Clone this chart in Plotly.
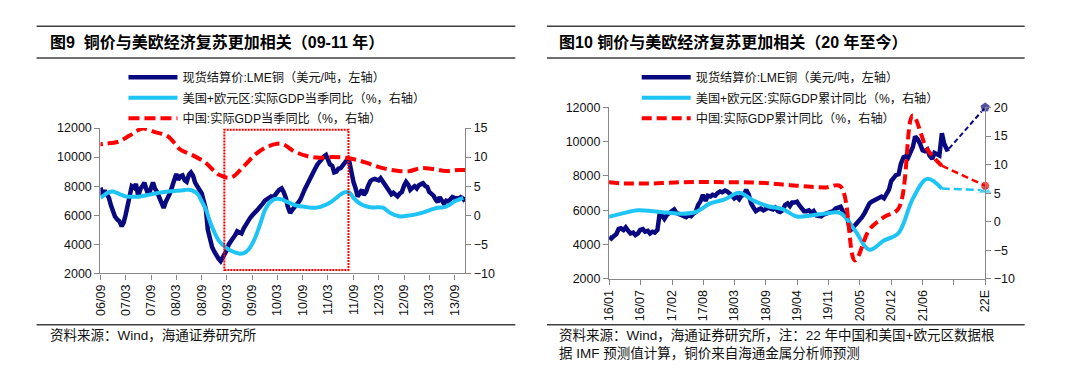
import pandas as pd
import plotly.graph_objects as go

# ------------------------------------------------------------------
# DATA - left chart (图9, 2006/09 - 2013/11)
# ------------------------------------------------------------------
left_start = "2006-09-01"
# LME copper settlement, semi-monthly readings (USD/t, left axis)
cu_left = [
    7900, 7400, 7700, 7500, 7200, 6700, 6300, 5900, 5700, 5600,
    5250, 5500, 6000, 6700, 7500, 8000, 7900, 8150, 7300, 7800,
    8000, 8250, 7700, 7400, 7900, 8250, 7800, 7600, 7200, 6800,
    6500, 6900, 7200, 7500, 8000, 8500, 8850, 8450, 8700, 8750,
    8400, 8300, 8800, 8950, 8700, 8250, 8000, 7800, 7500, 7000,
    6400, 5000, 4300, 3800, 3500, 3200, 3000, 2850, 3100, 3300,
    3600, 4000, 4200, 4450, 4650, 4900, 4800, 4750, 5100, 5350,
    5550, 5800, 6000, 6100, 6300, 6450, 6600, 6800, 7000, 7100,
    7150, 7300, 7250, 7500, 7600, 7750, 7850, 7600, 7200, 6600,
    6150, 6350, 6500, 6700, 6900, 7100, 7400, 7800, 8100, 8400,
    8700, 8950, 9250, 9500, 9700, 9950, 10050, 10150, 9800, 9500,
    9400, 8950, 9000, 9200, 9250, 9400, 9600, 9800, 9750, 8900,
    8300, 7900, 7300, 7500, 7750, 7400, 7600, 8000, 8350, 8450,
    8500, 8450, 8400, 8550, 8300, 8150, 7800, 7600, 7450, 7550,
    7400, 7300, 7500, 7600, 8050, 8300, 8100, 7750, 7900, 8000,
    7850, 8050, 8150, 8200, 8000, 7950, 7600, 7500, 7350, 7100,
    6900, 7250, 7000, 6800, 7000, 6950, 7100, 7250, 7200, 7200,
    7150, 7250, 7150, 6950,
]
# US + Euro area real GDP, quarterly yoy (%), monthly readings, right axis
us_eu_left = [
    3.0, 3.5, 4.0, 4.1, 3.8, 3.5, 3.25, 3.2, 3.2, 3.2,
    3.3, 3.45, 3.6, 3.75, 3.9, 4.0, 4.1, 4.15, 4.2, 4.25,
    4.35, 4.4, 4.2, 3.7, 2.4, 1.0, -1.2, -2.9, -4.3, -5.1,
    -5.7, -6.1, -6.4, -6.6, -6.5, -6.0, -4.9, -3.3, -1.2, 0.9,
    2.1, 2.7, 2.85, 2.75, 2.4, 2.1, 1.8, 1.6, 1.5, 1.4,
    1.3, 1.3, 1.4, 1.7, 2.0, 2.45, 3.0, 3.6, 3.95, 3.9,
    3.0, 2.3, 1.8, 1.55, 1.4, 1.35, 1.4, 1.3, 0.8, 0.3,
    0.0, -0.2, -0.15, -0.05, 0.05, 0.2, 0.4, 0.6, 0.85, 1.1,
    1.3, 1.35, 1.5, 1.9, 2.4, 2.7, 3.0,
]
# China real GDP, quarterly yoy (%), right axis
cn_left_dates = [
    "2006-06-30", "2006-09-30", "2006-12-31", "2007-03-31", "2007-06-30",
    "2007-09-30", "2007-12-31", "2008-03-31", "2008-06-30", "2008-09-30",
    "2008-12-31", "2009-03-31", "2009-06-30", "2009-09-30", "2009-12-31",
    "2010-03-31", "2010-06-30", "2010-09-30", "2010-12-31", "2011-03-31",
    "2011-06-30", "2011-09-30", "2011-12-31", "2012-03-31", "2012-06-30",
    "2012-09-30", "2012-12-31", "2013-03-31", "2013-06-30", "2013-09-30",
    "2013-12-31",
]
cn_left = [
    12.0, 12.3, 12.6, 13.7, 14.9, 14.3, 13.6, 11.3, 10.3, 9.0,
    7.0, 6.5, 8.4, 10.6, 11.9, 12.3, 11.0, 10.2, 9.9, 10.0,
    9.9, 9.5, 8.8, 8.1, 7.7, 7.55, 8.1, 7.95, 7.6, 7.8,
    7.75,
]
left_tick_dates = [
    "2006-09-01", "2007-03-01", "2007-09-01", "2008-03-01", "2008-09-01",
    "2009-03-01", "2009-09-01", "2010-03-01", "2010-09-01", "2011-03-01",
    "2011-09-01", "2012-03-01", "2012-09-01", "2013-03-01", "2013-09-01",
]
left_tick_text = [
    "06/09", "07/03", "07/09", "08/03", "08/09", "09/03", "09/09", "10/03",
    "10/09", "11/03", "11/09", "12/03", "12/09", "13/03", "13/09",
]
# highlighted window 2009-2011 (dotted box)
box_start, box_end = "2009-02-11", "2011-07-27"
box_low, box_high = 2245, 11880

# ------------------------------------------------------------------
# DATA - right chart (图10, 2016/01 - 22E)
# ------------------------------------------------------------------
right_start = "2016-01-01"
cu_right = [
    4450, 4350, 4500, 4600, 4900, 4950, 4850, 5000, 4800, 4650,
    4700, 4550, 4650, 4850, 4900, 4750, 4800, 4650, 4750, 4700,
    4850, 5800, 5700, 5500, 5750, 5850, 5950, 6050, 5850, 5800,
    5700, 5650, 5600, 5700, 5650, 5800, 5900, 6300, 6550, 6900,
    6550, 6850, 6800, 6900, 6850, 7000, 7100, 7050, 7150, 7100,
    7000, 6850, 6700, 6800, 6650, 6850, 6900, 7200, 6900, 6400,
    6150, 5950, 6050, 6100, 6000, 6100, 6150, 6100, 6050, 6150,
    5950, 5900, 6000, 6300, 6400, 6250, 6450, 6450, 6500, 6300,
    6100, 5950, 5950, 6000, 5850, 5950, 5700, 5700, 5650, 5750,
    5800, 5850, 5900, 5950, 6100, 6150, 6200, 5950, 5700, 5450,
    4800, 4950, 5150, 5250, 5400, 5600, 5850, 6100, 6400, 6500,
    6600, 6650, 6750, 6800, 6700, 6900, 7200, 7700, 7900, 8050,
    8100, 8700, 9100, 9150, 9050, 9400, 9700, 10300, 10150, 9900,
    9500, 9450, 9550, 9200, 9000, 9350, 9250, 9200, 10500, 9900,
    9550, 9600,
]
gdp_right_dates = [
    "2015-12-31", "2016-03-31", "2016-06-30", "2016-09-30", "2016-12-31",
    "2017-03-31", "2017-06-30", "2017-09-30", "2017-12-31", "2018-03-31",
    "2018-06-30", "2018-09-30", "2018-12-31", "2019-03-31", "2019-06-30",
    "2019-09-30", "2019-12-31", "2020-03-31", "2020-06-30", "2020-09-30",
    "2020-12-31", "2021-03-31", "2021-06-30", "2021-09-30",
]
us_eu_right = [
    0.85, 1.5, 2.0, 1.85, 1.6, 1.4, 1.7, 3.2, 3.9, 5.05,
    3.7, 2.7, 2.2, 0.9, 1.1, 1.45, 1.5, -1.5, -4.9, -3.3,
    -2.0, 4.0, 7.5, 5.8,
]
cn_right = [
    6.9, 6.7, 6.7, 6.7, 6.8, 6.9, 6.95, 6.95, 6.9, 6.9,
    6.85, 6.75, 6.5, 6.3, 6.1, 6.0, 6.2, -6.8, -1.4, 0.8,
    2.3, 18.6, 12.7, 9.8,
]
# 2022 estimates (IMF GDP forecasts, analyst copper forecast)
date_22E = "2022-07-01"
cu_22E = 12000
us_eu_22E = 5.5
cn_22E = 6.3
right_tick_dates = [
    "2016-01-01", "2016-07-16", "2017-02-01", "2017-08-16", "2018-03-01",
    "2018-09-16", "2019-04-01", "2019-10-16", "2020-05-01", "2020-11-16",
    "2021-06-01", "2021-12-16", "2022-07-01",
]
right_tick_text = [
    "16/01", "16/07", "17/02", "17/08", "18/03", "18/09", "19/04", "19/11",
    "20/05", "20/12", "21/06", "", "22E",
]

# ------------------------------------------------------------------
# STYLE
# ------------------------------------------------------------------
W, H = 1080, 378
NAVY = "#0A0A80"
CYAN = "#1EC4F5"
RED = "#FF0000"
AXIS = "#888888"
RULE = "#404040"
FONT = "Liberation Sans, Arial, Noto Sans CJK SC, sans-serif"
CJK = "Liberation Sans, Noto Sans CJK SC, sans-serif"


def fx(p):
    return p / W


def fy(p):
    return 1 - p / H


cu_left_dates = pd.date_range(left_start, periods=len(cu_left), freq="SMS")
us_eu_left_dates = pd.date_range(left_start, periods=len(us_eu_left), freq="MS")
cu_right_dates = pd.date_range(right_start, periods=len(cu_right), freq="SMS")

lab_cu = "现货结算价:LME铜（美元/吨，左轴）"
lab_useu_l = "美国+欧元区:实际GDP当季同比（%，右轴）"
lab_cn_l = "中国:实际GDP当季同比（%，右轴）"
lab_useu_r = "美国+欧元区:实际GDP累计同比（%，右轴）"
lab_cn_r = "中国:实际GDP累计同比（%，右轴）"

fig = go.Figure()

# ---- left chart traces
fig.add_trace(go.Scatter(
    x=cu_left_dates, y=cu_left, name=lab_cu, mode="lines",
    line=dict(color=NAVY, width=4.5), xaxis="x", yaxis="y",
    legend="legend", legendgroup="l1"))
fig.add_trace(go.Scatter(
    x=us_eu_left_dates, y=us_eu_left, name=lab_useu_l, mode="lines",
    line=dict(color=CYAN, width=4, shape="spline", smoothing=1),
    xaxis="x", yaxis="y2", legend="legend", legendgroup="l2"))
fig.add_trace(go.Scatter(
    x=cn_left_dates, y=cn_left, name=lab_cn_l, mode="lines",
    line=dict(color=RED, width=4, dash="11px,5px", shape="spline", smoothing=1),
    xaxis="x", yaxis="y2", legend="legend", legendgroup="l3"))

# ---- right chart traces
fig.add_trace(go.Scatter(
    x=cu_right_dates, y=cu_right, name=lab_cu, mode="lines",
    line=dict(color=NAVY, width=4.5), xaxis="x2", yaxis="y3",
    legend="legend2", legendgroup="r1"))
fig.add_trace(go.Scatter(
    x=gdp_right_dates, y=us_eu_right, name=lab_useu_r, mode="lines",
    line=dict(color=CYAN, width=4, shape="spline", smoothing=1),
    xaxis="x2", yaxis="y4", legend="legend2", legendgroup="r2"))
fig.add_trace(go.Scatter(
    x=gdp_right_dates, y=cn_right, name=lab_cn_r, mode="lines",
    line=dict(color=RED, width=4, dash="10px,5px", shape="spline", smoothing=1),
    xaxis="x2", yaxis="y4", legend="legend2", legendgroup="r3"))

# ---- 22E forecast segments
fig.add_trace(go.Scatter(
    x=[cu_right_dates[-1], date_22E], y=[cu_right[-1], cu_22E],
    mode="lines+markers", showlegend=False, cliponaxis=False,
    line=dict(color=NAVY, width=2, dash="5px,3px"),
    marker=dict(symbol="pentagon", size=[0, 11], color=NAVY),
    xaxis="x2", yaxis="y3"))
fig.add_trace(go.Scatter(
    x=[gdp_right_dates[-1], date_22E], y=[us_eu_right[-1], us_eu_22E],
    mode="lines+markers", showlegend=False, cliponaxis=False,
    line=dict(color=CYAN, width=2.5, dash="8px,4px"),
    marker=dict(symbol="triangle-up", size=[0, 12], color=CYAN),
    xaxis="x2", yaxis="y4"))
fig.add_trace(go.Scatter(
    x=[gdp_right_dates[-1], date_22E], y=[cn_right[-1], cn_22E],
    mode="lines+markers", showlegend=False, cliponaxis=False,
    line=dict(color=RED, width=2.5, dash="7px,4px"),
    marker=dict(symbol="circle", size=[0, 9], color=RED),
    xaxis="x2", yaxis="y4"))

tickfont = dict(family=FONT, size=12.5, color="#111111")
common_axis = dict(showgrid=False, zeroline=False, showline=True, linecolor=AXIS,
                   linewidth=1.3, ticks="outside", tickcolor=AXIS, tickwidth=1.3,
                   tickfont=tickfont)

fig.update_layout(
    width=W, height=H, autosize=False,
    margin=dict(l=0, r=0, t=0, b=0),
    paper_bgcolor="white", plot_bgcolor="white",
    font=dict(family=FONT, size=12.5, color="#111111"),
    xaxis=dict(domain=[fx(94.7), fx(464)], anchor="y", type="date",
               range=["2006-09-01", "2013-11-14"], tickmode="array",
               tickvals=left_tick_dates, ticktext=left_tick_text,
               tickangle=-90, ticklen=5, **common_axis),
    yaxis=dict(domain=[fy(276.7), fy(125.7)], anchor="x", range=[2000, 12000],
               tick0=2000, dtick=2000, ticklen=5, tickformat="d", **common_axis),
    yaxis2=dict(overlaying="y", side="right", anchor="x", range=[-10, 15],
                tick0=-10, dtick=5, ticklen=5, tickformat="d", **common_axis),
    xaxis2=dict(domain=[fx(610), fx(991)], anchor="y3", type="date",
                range=["2016-01-01", "2022-07-01"], tickmode="array",
                tickvals=right_tick_dates, ticktext=right_tick_text,
                tickangle=-90, ticklen=5, **common_axis),
    yaxis3=dict(domain=[fy(282.3), fy(104.3)], anchor="x2", range=[2000, 12000],
                tick0=2000, dtick=2000, ticklen=5, tickformat="d", **common_axis),
    yaxis4=dict(overlaying="y3", side="right", anchor="x2", range=[-10, 20],
                tick0=-10, dtick=5, ticklen=5, tickformat="d", **common_axis),
    legend=dict(x=fx(118), y=fy(58), xanchor="left", yanchor="top",
                bgcolor="rgba(0,0,0,0)", borderwidth=0, itemwidth=49,
                traceorder="grouped", tracegroupgap=1.5,
                font=dict(family=CJK, size=12.2, color="#111111")),
    legend2=dict(x=fx(638), y=fy(58), xanchor="left", yanchor="top",
                 bgcolor="rgba(0,0,0,0)", borderwidth=0, itemwidth=49,
                 traceorder="grouped", tracegroupgap=1.5,
                 font=dict(family=CJK, size=12.2, color="#111111")),
)

# highlight box on left chart
fig.add_shape(type="rect", xref="x", yref="y", x0=box_start, x1=box_end,
              y0=box_low, y1=box_high,
              line=dict(color=RED, width=2, dash="2px,1px"))

# horizontal rules
for (a, b) in [(30, 515), (547, 1031)]:
    for yy in (20, 53, 330):
        fig.add_shape(type="line", xref="paper", yref="paper",
                      x0=fx(a), x1=fx(b), y0=fy(yy), y1=fy(yy),
                      line=dict(color=RULE, width=1.4))

title_font = dict(family=CJK, size=16, color="#000000")
src_font = dict(family=CJK, size=13.5, color="#111111")
texts = [
    (42, 36.5, "<b>图9  铜价与美欧经济复苏更加相关（09-11 年）</b>", title_font),
    (557, 36.5, "<b>图10 铜价与美欧经济复苏更加相关（20 年至今）</b>", title_font),
    (42, 341, "资料来源：Wind，海通证券研究所", src_font),
    (557, 341, "资料来源：Wind，海通证券研究所，注：22 年中国和美国+欧元区数据根", src_font),
    (557, 360, "据 IMF 预测值计算，铜价来自海通金属分析师预测", src_font),
]
for (xx, yy, t, f) in texts:
    fig.add_annotation(x=fx(xx), y=fy(yy), xref="paper", yref="paper",
                       xanchor="left", yanchor="middle", text=t,
                       showarrow=False, font=f)

fig.write_html("out.html",
               config={"displayModeBar": False},
               post_script="document.body.style.margin='0';"
                           "document.body.style.overflow='hidden';")
